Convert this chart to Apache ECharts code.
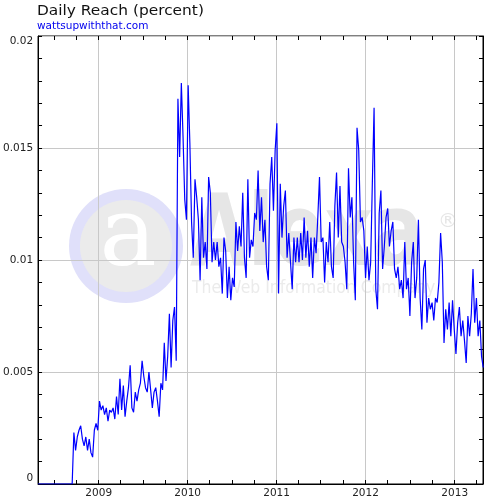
<!DOCTYPE html>
<html>
<head>
<meta charset="utf-8">
<script src="https://cdn.jsdelivr.net/npm/echarts@6/dist/echarts.min.js"></script>
<style>
html,body{margin:0;padding:0;background:#fff;}
#chart{width:500px;height:500px;}
</style>
</head>
<body>
<div id="chart"></div>
<script>
// ---- data ----
const titleText = 'Daily Reach (percent)';
const siteText = 'wattsupwiththat.com';
const axisStart = '2008-04-27';
const axisEnd = '2013-04-27';
const seriesStart = '2008-04-27';
const stepDays = 7;
const yTicks = [0, 0.005, 0.01, 0.015, 0.02];
const yearLabels = ['2009', '2010', '2011', '2012', '2013'];
const reach = [
  0,0,0,0,0,0,0,0,0,0,0,0,0,0,0,0,0,0,0,0,0,
  0.0023,0.0015,0.0021,0.0024,0.0026,0.0020,0.0017,0.0021,0.0015,0.0020,0.0014,0.0012,0.0024,0.0027,0.0024,
  0.0037,0.0033,0.0035,0.0031,0.0034,0.0028,0.0033,0.0032,0.0034,0.0029,0.0039,0.0031,0.0047,0.0033,0.0044,
  0.0030,0.0037,0.0043,0.0053,0.0034,0.0032,0.0041,0.0037,0.0042,0.0045,0.0055,0.0048,0.0043,0.0041,0.0050,
  0.0042,0.0034,0.0041,0.0043,0.0037,0.0030,0.0045,0.0042,0.0063,0.0046,0.0057,0.0076,0.0052,0.0073,0.0079,0.0055,
  0.0172,0.0146,0.0179,0.0155,0.0127,0.0118,0.0178,0.0152,0.0117,
  0.0101,0.0136,0.0128,0.0118,0.0091,0.0128,0.0101,0.0108,0.0096,0.0137,0.0130,0.0099,0.0108,0.0100,0.0108,
  0.0097,0.0101,0.0085,0.0110,0.0104,0.0083,0.0097,0.0082,0.0092,0.0088,0.0117,0.0104,0.0115,0.0106,0.0130,
  0.0101,0.0092,0.0136,0.0101,0.0109,0.0106,0.0121,0.0118,0.0140,0.0113,0.0128,0.0108,0.0118,0.0097,0.0091,0.0134,0.0146,0.0122,0.0149,0.0161,
  0.0085,0.0134,0.0110,0.0124,0.0131,0.0101,0.0112,0.0099,0.0087,0.0110,0.0099,0.0110,0.0099,0.0112,0.0100,0.0119,0.0101,0.0113,0.0097,0.0110,
  0.0092,0.0110,0.0103,0.0119,0.0137,0.0108,0.0110,0.0090,0.0108,0.0099,0.0117,0.0097,0.0092,0.0124,0.0139,0.0110,0.0133,0.0108,0.0106,0.0099,
  0.0087,0.0141,0.0119,0.0128,0.0099,0.0082,0.0159,0.0149,0.0117,0.0119,0.0113,0.0092,0.0106,0.0091,0.0099,0.0135,0.0168,0.0087,0.0078,0.0121,
  0.0131,0.0096,0.0106,0.0119,0.0123,0.0106,0.0113,0.0117,0.0096,0.0092,0.0097,0.0087,0.0091,0.0083,0.0108,0.0087,0.0092,0.0075,0.0099,0.0108,
  0.0083,0.0092,0.0118,0.0083,0.0069,0.0096,0.0100,0.0072,0.0083,0.0078,0.0081,0.0073,0.0083,0.0081,0.0090,0.0112,0.0099,0.0063,0.0078,0.0069,
  0.0081,0.0066,0.0082,0.0069,0.0058,0.0072,0.0079,0.0066,0.0073,0.0064,0.0054,0.0075,0.0066,0.0076,0.0096,0.0072,0.0083,0.0066,0.0073,0.0057,0.0052
];

// ---- build ----
function parseLocal(s) { const p = s.split('-').map(Number); return new Date(p[0], p[1] - 1, p[2]); }
const s0 = parseLocal(seriesStart);
const seriesData = reach.map((v, i) => [new Date(s0.getFullYear(), s0.getMonth(), s0.getDate() + i * stepDays).getTime(), v]);
const tMin = parseLocal(axisStart).getTime();
const tMax = parseLocal(axisEnd).getTime();
const DAY = 86400000;
const FONT = 'DejaVu Sans';

const quarterAxis = (pos) => ({
  type: 'time', position: pos, min: tMin, max: tMax, gridIndex: 0,
  minInterval: 91 * DAY, maxInterval: 91 * DAY,
  axisLine: { show: false, onZero: false },
  axisLabel: { show: false },
  splitLine: { show: false },
  axisTick: { show: true, inside: true, length: 4, lineStyle: { color: '#000', width: 1 } }
});
const yAxisBase = (pos, showLabel) => ({
  type: 'value', position: pos, min: yTicks[0], max: yTicks[yTicks.length - 1], interval: yTicks[1] - yTicks[0],
  axisLine: { show: true, onZero: false, lineStyle: { color: '#000', width: 1 } },
  axisTick: { show: true, inside: true, length: 4, lineStyle: { color: '#000' } },
  minorTick: { show: true, splitNumber: 5, length: 4, lineStyle: { color: '#000' } },
  splitLine: { show: showLabel, lineStyle: { color: '#c8c8c8', width: 1 } },
  axisLabel: showLabel ? {
    show: true, margin: 5, color: '#222', fontFamily: FONT, fontSize: 10.5,
    formatter: (v) => {
      const t = String(+v.toFixed(3));
      if (v === yTicks[0]) return '{b|' + t + '}';
      if (Math.abs(v - yTicks[yTicks.length - 1]) < 1e-9) return '{t|' + t + '}';
      return t;
    },
    rich: {
      b: { padding: [0, 0, 11, 0], color: '#222', fontFamily: FONT, fontSize: 10.5 },
      t: { padding: [11, 0, 0, 0], color: '#222', fontFamily: FONT, fontSize: 10.5 }
    }
  } : { show: false }
});

const wm = '#e6e6e6';
const option = {
  animation: false,
  backgroundColor: '#fff',
  grid: { left: 38, right: 17, top: 36, bottom: 16, show: true, borderColor: '#000', borderWidth: 1, backgroundColor: 'transparent' },
  graphic: [
    { type: 'circle', z: -10, shape: { cx: 126, cy: 246, r: 57 }, style: { fill: '#e0e0fa' } },
    { type: 'circle', z: -10, shape: { cx: 126, cy: 246, r: 46 }, style: { fill: '#ebebeb' } },
    { type: 'text', z: -9, x: 128, y: 240, style: { text: 'a', font: '96px DejaVu Serif', fill: '#fff', align: 'center', verticalAlign: 'middle' } },
    { type: 'text', z: -9, x: 190, y: 239, scaleX: 0.75, originX: 0, style: { text: 'Alexa', font: 'bold 100px DejaVu Sans', fill: wm, align: 'left', verticalAlign: 'middle' } },
    { type: 'text', z: -9, x: 438, y: 222, style: { text: '®', font: '20px DejaVu Sans', fill: wm, align: 'left', verticalAlign: 'middle' } },
    { type: 'text', z: -9, x: 192, y: 288, scaleX: 0.87, originX: 0, style: { text: 'The Web Information Company', font: '18px DejaVu Sans', fill: '#ebebeb', align: 'left', verticalAlign: 'middle' } },
    { type: 'text', z: 10, x: 37, y: 4, scaleX: 1.1, originX: 0, style: { text: titleText, font: '14px DejaVu Sans', fill: '#111', align: 'left', verticalAlign: 'top' } },
    { type: 'text', z: 10, x: 37, y: 21, style: { text: siteText, font: '10.5px DejaVu Sans', fill: '#0000ee', align: 'left', verticalAlign: 'top' } }
  ],
  xAxis: [
    {
      type: 'time', position: 'bottom', min: tMin, max: tMax, gridIndex: 0,
      minInterval: 365 * DAY, maxInterval: 365 * DAY,
      axisLine: { show: true, onZero: false, lineStyle: { color: '#000' } },
      axisTick: { show: false },
      splitLine: { show: true, lineStyle: { color: '#c8c8c8', width: 1 } },
      axisLabel: {
        show: true, margin: 4, color: '#222', fontFamily: FONT, fontSize: 10.5, fontWeight: 'normal',
        showMinLabel: false, showMaxLabel: false,
        formatter: (v) => {
          const d = new Date(v);
          const y = String(d.getFullYear());
          return (d.getMonth() === 0 && d.getDate() === 1 && yearLabels.indexOf(y) >= 0) ? y : '';
        }
      }
    },
    quarterAxis('bottom'),
    quarterAxis('top')
  ],
  yAxis: [yAxisBase('left', true), yAxisBase('right', false)],
  series: [{
    type: 'line', xAxisIndex: 0, yAxisIndex: 0, data: seriesData,
    showSymbol: false, symbol: 'none', smooth: false,
    lineStyle: { color: '#0000ff', width: 1.2 },
    z: 5
  }]
};
const chart = echarts.init(document.getElementById('chart'), null, { renderer: 'canvas' });
chart.setOption(option);
</script>
</body>
</html>
